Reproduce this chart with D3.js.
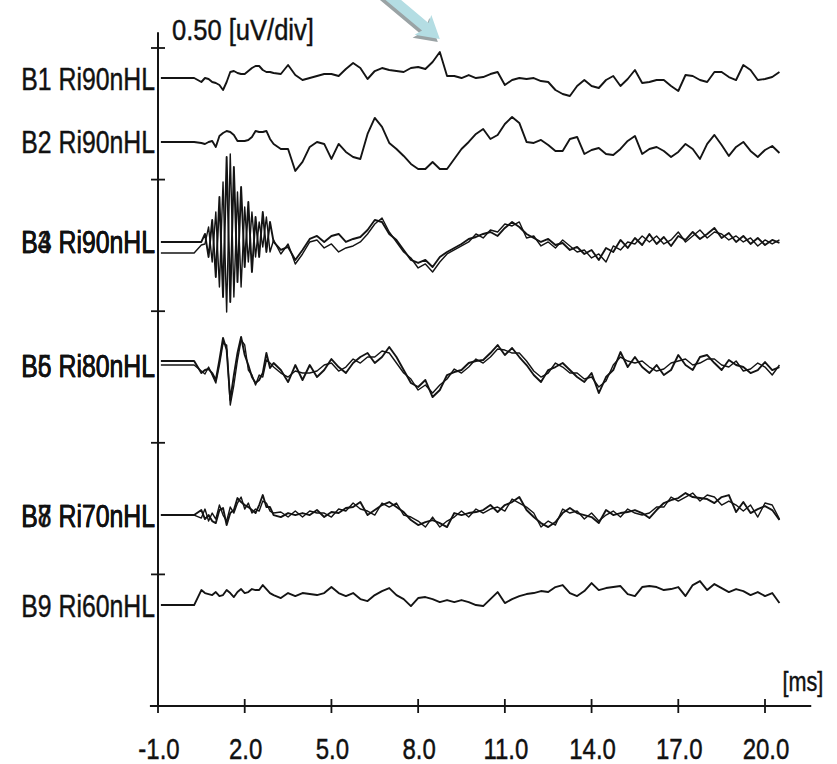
<!DOCTYPE html>
<html><head><meta charset="utf-8">
<script src="https://cdn.jsdelivr.net/npm/d3@7"></script>
<style>
html,body{margin:0;padding:0;background:#fff;}
svg{display:block;}
text{font-family:"Liberation Sans Narrow","Arial Narrow","Liberation Sans",Arial,sans-serif;fill:#111;stroke:#111;stroke-width:0.45px;}
</style></head><body>
<svg id="c" width="837" height="764"></svg>
<script>
// ---------- DATA ----------
const time = [-0.9,-0.5,-0.25,0,0.25,0.5,0.625,0.75,0.875,1,1.125,1.25,1.375,1.5,1.625,1.75,1.875,2,2.125,2.25,2.375,2.5,2.625,2.75,2.875,3,
3.25,3.5,3.75,4,4.25,4.5,4.75,5,5.25,5.5,5.75,6,6.25,6.5,6.75,7,7.25,7.5,7.75,8,8.25,8.5,8.75,9,9.25,9.5,9.75,10,10.25,10.5,
10.75,11,11.25,11.5,11.75,12,12.25,12.5,12.75,13,13.25,13.5,13.75,14,14.25,14.5,14.75,15,15.25,15.5,15.75,16,16.25,16.5,16.75,17,
17.25,17.5,17.75,18,18.25,18.5,18.75,19,19.25,19.5,19.75,20,20.25,20.5]; // ms

const traceNames = ["B1 Ri90nHL","B2 Ri90nHL","B3 Ri90nHL","B4 Ri90nHL","B5 Ri80nHL","B6 Ri80nHL","B7 Ri70nHL","B8 Ri70nHL","B9 Ri60nHL"];
const traceLevel = [0.228,0.714,1.474,1.474,2.409,2.409,3.549,3.549,4.233]; // display offset (div)

// amplitudes in uV
const b1 = [0,0,0,0,0,-.016,
0,-.004,-.016,-.02,-.028,-.048,-.016,.024,.028,.02,.016,.016,.028,.04,.048,.048,.032,.024,.024,.02,
.016,.052,.012,-.008,0,.008,.016,.016,.008,.036,
.06,.04,-.004,.028,.04,.032,.028,.024,.04,.044,
.036,.064,.104,.008,.008,0,.012,0,.004,.016,
.024,-.028,-.008,0,-.004,0,-.012,-.016,-.048,-.064,
-.072,-.032,-.008,-.032,-.04,-.008,.008,-.032,-.004,.032,
-.02,-.016,-.008,-.008,-.032,-.052,.012,.008,-.008,-.016,
.024,.024,.004,-.008,.052,.032,-.008,-.004,.004,.024];
const b2 = [0,0,0,0,0,-.004,
-.008,0,.004,-.02,.024,.036,.044,.04,.028,.004,.004,.004,.008,.02,.044,.04,.04,.044,.012,-.008,
-.028,-.028,-.116,-.08,-.02,0,-.008,-.068,-.008,-.04,
-.06,-.068,.032,.096,.06,-.004,-.028,-.056,-.088,-.108,
-.108,-.08,-.108,-.108,-.068,-.028,0,.032,.052,.012,
.028,.072,.1,.076,0,-.004,.008,-.012,-.036,-.036,
.012,.02,-.048,-.032,-.024,-.048,-.052,-.028,.004,.024,
-.048,-.028,-.02,-.036,-.06,-.04,-.008,-.028,-.068,-.008,
.028,-.012,-.056,-.02,0,-.036,-.06,-.032,-.016,-.044];
const b3 = [0,0,0,0,0,0,
.032,-.06,.088,-.14,.18,-.22,.34,-.24,.3,-.16,.22,-.1,.16,-.12,.1,-.06,.12,-.04,.08,0,
-.032,-.02,-.072,-.032,.012,.024,0,.024,.032,0,
.012,.02,.048,.088,.08,.032,.008,-.032,-.072,-.084,
-.072,-.1,-.06,-.04,-.024,-.008,.012,.02,.032,.04,
.024,.056,.08,.06,.032,.016,0,.012,-.012,-.004,
-.032,-.02,-.048,-.032,-.072,-.024,-.04,.008,-.024,.016,
-.012,.032,-.008,.02,-.016,.024,.008,.04,.012,.032,
.056,.016,.036,0,.024,-.008,.016,-.012,.008,-.004];
const b4 = [-.044,-.044,-.044,-.044,-.044,-.012,
-.008,.06,-.08,.12,-.18,.24,-.28,.352,-.22,.2,-.18,.14,-.08,.12,-.06,.08,-.02,.1,-.04,.008,
-.048,-.008,-.088,-.048,0,.008,-.024,-.008,-.04,-.024,
-.016,0,.032,.072,.096,.04,0,-.04,-.064,-.104,
-.088,-.12,-.08,-.048,-.032,-.016,0,.032,.016,.048,
.04,.072,.064,.08,.016,.024,-.016,0,-.024,.008,
-.016,-.04,-.032,-.064,-.048,-.08,-.016,-.032,0,-.008,
.024,0,.024,-.008,.008,.04,0,.024,.048,.016,
.04,.032,.008,.024,0,.016,-.016,.008,-.008,.008];
const b5 = [.016,.016,.016,.016,.016,-.032,
-.02,-.016,-.032,-.06,.02,.108,.06,-.14,-.04,.048,.112,.04,0,-.048,-.072,-.06,-.032,.048,-.012,.008,
-.02,-.068,0,-.06,0,-.048,-.02,.024,-.008,-.032,
.008,.032,.048,.008,.032,.072,.032,-.02,-.072,-.088,
-.06,-.128,-.1,-.04,-.028,-.02,.008,.016,.02,.048,
.08,.04,.068,.032,0,-.04,-.068,-.02,-.008,.008,
-.02,-.048,-.068,-.032,-.112,-.048,-.02,.052,-.008,.032,
-.008,-.032,0,-.04,-.02,.04,0,-.02,.032,.04,
.008,-.02,.02,0,-.008,-.032,-.02,.012,-.02,-.008];
const b6 = [0,0,0,0,0,-.024,
-.036,-.008,-.04,-.072,0,.088,.08,-.16,-.08,.02,.1,.08,-.02,-.04,-.08,-.04,-.048,.02,.008,-.008,
-.032,-.048,-.024,-.032,-.032,-.024,0,.008,-.024,-.008,
.024,.008,.032,.032,.056,.048,.008,-.032,-.056,-.1,
-.08,-.112,-.08,-.056,-.016,-.032,-.008,.024,.008,.032,
.064,.06,.048,.048,.016,-.024,-.048,-.032,.008,-.008,
-.032,-.032,-.056,-.048,-.088,-.064,0,.032,.016,.008,
.016,-.008,-.024,-.016,.008,.016,.024,0,.008,.024,
.024,0,-.008,.016,-.024,-.016,.008,-.008,-.04,0];
const b7 = [0,0,0,0,0,.02,
-.016,0,-.024,-.032,.02,.028,-.04,.008,.02,.068,.052,.04,.032,.02,.008,.04,.08,.032,.032,0,
-.008,.008,0,.008,0,.02,-.008,.012,.008,.028,
.032,.052,0,.02,.04,.052,.032,.012,-.02,-.04,
-.028,-.02,-.032,-.048,.008,0,.008,.012,.02,.04,
.012,.04,.052,.072,.02,-.008,-.032,-.048,-.028,.008,
.028,.008,0,-.008,-.032,.02,0,.008,.012,.02,
.008,-.012,.02,.048,.06,.068,.088,.072,.068,.064,
.048,.072,.08,.012,.052,.008,.024,.036,.02,-.02];
const b8 = [0,0,0,0,0,-.012,
.024,-.024,.008,-.016,.04,0,-.024,.032,.008,.048,.072,.024,.048,.008,.024,.016,.056,.048,.016,.008,
.012,-.008,.016,-.008,.016,.008,.008,-.008,.024,.016,
.048,.024,.016,0,.048,.032,.048,0,-.008,-.024,
-.048,-.008,-.048,-.024,-.008,.016,-.008,.024,.008,.024,
.032,.016,.064,.048,.032,.008,-.048,-.024,-.04,.024,
.008,.016,-.016,.008,-.024,0,.016,-.008,.024,.008,
0,.008,.032,.032,.072,.056,.072,.088,.056,.08,
.072,.04,.056,.04,.016,.04,-.008,.048,.04,-.016];
const b9 = [0,0,0,0,0,.06,
.048,.044,.04,.052,.036,.04,.06,.048,.032,.052,.064,.048,.052,.064,.06,.06,.08,.064,.048,.04,
.028,.048,.036,.048,.044,.04,.048,.072,.048,.036,
.048,.024,.016,.04,.056,.068,.04,.024,-.004,.028,
.032,.024,.012,.02,.012,.02,.012,0,-.004,.024,
.052,.008,.024,.036,.044,.048,.056,.052,.072,.08,
.048,.036,.056,.088,.06,.068,.072,.076,.044,.036,
.072,.076,.072,.06,.064,.072,.036,.08,.096,.06,
.084,.068,.052,.064,.056,.04,.052,.036,.048,.008];

const xTicks = [-1,2,5,8,11,14,17,20];
const xTickLabels = ["-1.0","2.0","5.0","8.0","11.0","14.0","17.0","20.0"];
const yTicks = [0,1,2,3,4];
const scaleLabel = "0.50 [uV/div]";
const unitLabel = "[ms]";

// ---------- CHART ----------
const traces = [b1,b2,b3,b4,b5,b6,b7,b8,b9];
traces.forEach((t,i)=>{ if(t.length!==time.length) throw new Error("trace "+traceNames[i]+" length "+t.length+" vs "+time.length); });

const svg = d3.select("#c");
const x = d3.scaleLinear().domain([-1,20]).range([158,765]);
const yLay = d3.scaleLinear().domain([0,5]).range([48,706]);
const amp = d3.scaleLinear().domain([0,1]).range([0,250]);
const yOf = (lvl,v)=> yLay(lvl) - amp(v);
const ink = "#141414";

// condense a text node horizontally (narrow display font look)
function condense(sel, k){
  sel.each(function(){
    const w = this.getComputedTextLength();
    d3.select(this).attr("textLength", w*k).attr("lengthAdjust","spacingAndGlyphs");
  });
}

// arrow annotation (points at B1 largest peak)
const late = d3.range(time.length).filter(i=>time[i]>5);
const pk = late.reduce((a,b)=> b1[b]>b1[a]?b:a);
const tip = [x(time[pk]), yOf(traceLevel[0], b1[pk]) - 13];
const arrowPts = [[0,0],[-22,-13],[-19,-5],[-95,-5],[-95,5],[-19,5],[-22,13]];
const arrowPath = "M"+arrowPts.map(p=>p.join(",")).join("L")+"Z";
svg.append("path").attr("d",arrowPath).attr("fill","#9aa3a5")
  .attr("transform",`translate(${tip[0]-2},${tip[1]+3}) rotate(40)`);
svg.append("path").attr("d",arrowPath).attr("fill","#b4dde3")
  .attr("transform",`translate(${tip[0]},${tip[1]}) rotate(40)`);

// y axis
svg.append("line").attr("x1",x(-1)).attr("x2",x(-1))
  .attr("y1",yLay(-0.12)).attr("y2",yLay(5)).attr("stroke",ink).attr("stroke-width",2);
svg.selectAll(".ytk").data(yTicks).join("line")
  .attr("x1",x(-1)-7).attr("x2",x(-1)+7)
  .attr("y1",d=>yLay(d)).attr("y2",d=>yLay(d)).attr("stroke",ink).attr("stroke-width",1.8);

// x axis
const xAxisY = yLay(5);
svg.append("line").attr("x1",x(-1.28)).attr("x2",x(21.6))
  .attr("y1",xAxisY).attr("y2",xAxisY).attr("stroke",ink).attr("stroke-width",2);
svg.selectAll(".xtk").data(xTicks).join("line")
  .attr("x1",d=>x(d)).attr("x2",d=>x(d))
  .attr("y1",xAxisY-7).attr("y2",xAxisY+7).attr("stroke",ink).attr("stroke-width",1.8);
const xtl = svg.selectAll(".xtl").data(xTicks).join("text")
  .attr("x",d=>x(d)+1).attr("y",xAxisY+53)
  .attr("text-anchor","middle").attr("font-size",30)
  .text((d,i)=>xTickLabels[i]);
condense(xtl, 0.8);
const ul = svg.append("text").attr("x",x(21.6)+12).attr("y",xAxisY-15)
  .attr("text-anchor","end").attr("font-size",27).text(unitLabel);
condense(ul, 0.8);
const sl = svg.append("text").attr("x",x(-1)+14).attr("y",yLay(0)-8)
  .attr("font-size",29).text(scaleLabel);
condense(sl, 0.88);

// traces
const line = d3.line();
traces.forEach((vals,i)=>{
  const pts = time.map((t,j)=>[x(t), yOf(traceLevel[i], vals[j])]);
  svg.append("path").attr("d",line(pts)).attr("fill","none")
    .attr("stroke",ink).attr("stroke-width", (i===3||i===5||i===7)?1.4:1.9)
    .attr("stroke-linejoin","round");
});

// labels
const labs = svg.selectAll(".lab").data(traceNames).join("text")
  .attr("x",x(-1)-3).attr("y",(d,i)=>yLay(traceLevel[i])+1)
  .attr("text-anchor","end").attr("dominant-baseline","central")
  .attr("font-size",31).text(d=>d);
condense(labs, 0.8);
</script>
</body></html>
